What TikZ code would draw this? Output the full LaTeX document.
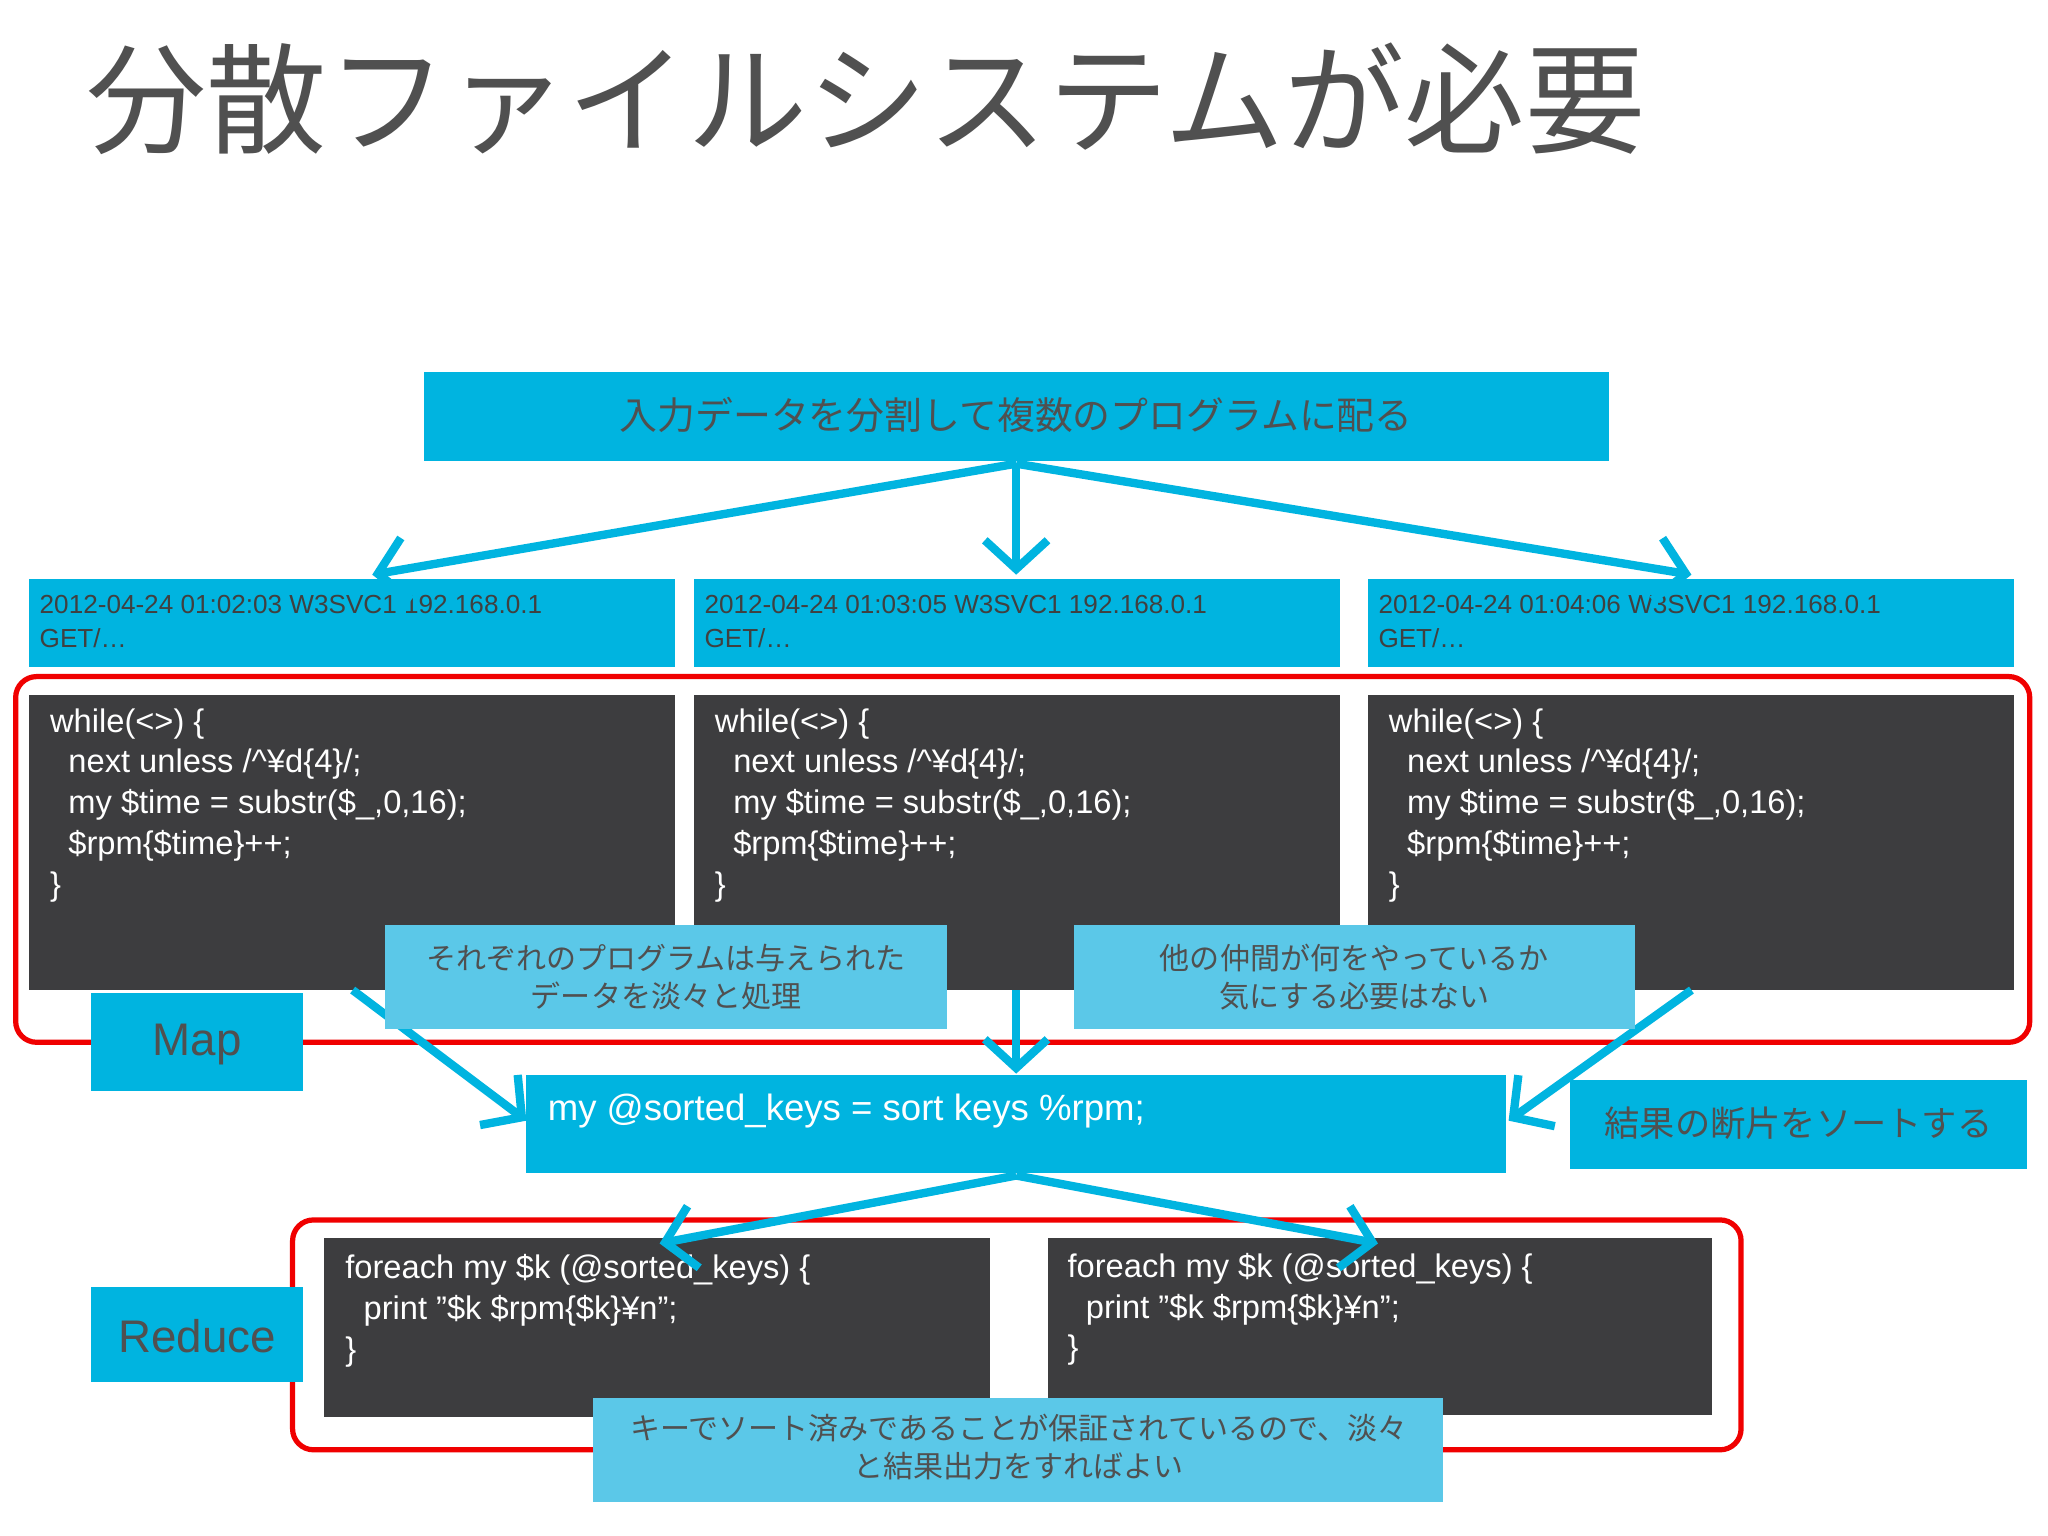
\documentclass[tikz,border=0pt]{standalone}
\usepackage{fontspec}
\setmainfont{Liberation Sans}
\newfontfamily\jp{Noto Sans CJK JP}
\usetikzlibrary{arrows.meta}
\definecolor{cyanA}{HTML}{00B4E0}
\definecolor{cyanL}{HTML}{5BC8E8}
\definecolor{darkbox}{HTML}{3D3D3F}
\definecolor{txtgray}{HTML}{505050}
\definecolor{redline}{HTML}{F00000}
\tikzset{
 cbox/.style={fill=cyanA,draw=none},
 lbox/.style={fill=cyanL,draw=none},
 dbox/.style={fill=darkbox,draw=none},
 frame/.style={draw=redline,line width=2pt,rounded corners=8pt},
 flow/.style={draw=cyanA,line width=3.2pt,-{Straight Barb[length=11pt,width=24pt,line width=3.2pt]}},
 code/.style={anchor=north west,align=left,text=white,font=\fontsize{12.5}{15.6}\selectfont,inner sep=0pt},
 logt/.style={anchor=north west,align=left,text=txtgray!80!black,font=\fontsize{10}{13}\selectfont,inner sep=0pt},
 jpt/.style={align=center,text=txtgray,font=\jp\fontsize{11.5}{14.5}\selectfont,inner sep=0pt},
}
\newcommand{\ind}{\hspace*{7pt}}
\begin{document}
\begin{tikzpicture}[x=0.5pt,y=-0.5pt]
\useasboundingbox[fill=white] (0,0) rectangle (1568,1176);
\node[anchor=west,text=txtgray,font=\jp\fontsize{46}{50}\selectfont,inner sep=0pt] (title) at (66,76) {分散ファイルシステムが必要};
% top
\fill[cbox] (325,285) rectangle (1232,353);
\node[jpt,font=\jp\fontsize{14.5}{17}\selectfont] (top) at (778,318) {入力データを分割して複数のプログラムに配る};
\coordinate (topb) at (778,355);
% logs
\foreach \x/\t/\n in {22/02:03/l1,531/03:05/l2,1047/04:06/l3}{
 \fill[cbox] (\x,443) rectangle ++(495,68);
 \node[logt] (\n) at (\x+8,455) {2012-04-24 01:\t{} W3SVC1 192.168.0.1\\GET/…};
}
\coordinate (a1) at (285,440);\coordinate (a2) at (778,440);\coordinate (a3) at (1295,440);
\draw[flow] (topb) -- (a1);\draw[flow] (topb) -- (a2);\draw[flow] (topb) -- (a3);
% map frame
\draw[frame] (12,518) rectangle (1554,798);
\foreach \x/\n in {22/c1,531/c2,1047/c3}{
 \fill[dbox] (\x,532) rectangle ++(495,226);
 \node[code] (\n) at (\x+16,542) {while(<>) \{\\\ind next unless /\textasciicircum ¥d\{4\}/;\\\ind my \$time = substr(\$\_,0,16);\\\ind \$rpm\{\$time\}++;\\\}};
}
\coordinate (m1) at (270,758);\coordinate (m2) at (778,758);\coordinate (m3) at (1295,758);
\coordinate (s1) at (403,858);\coordinate (s2) at (778,822);\coordinate (s3) at (1155,858);
\draw[flow] (m1) -- (s1);\draw[flow] (m2) -- (s2);\draw[flow] (m3) -- (s3);
\fill[lbox] (295,708) rectangle (725,788);
\node[jpt] (n1) at (510,748) {それぞれのプログラムは与えられた\\データを淡々と処理};
\fill[lbox] (822,708) rectangle (1252,788);
\node[jpt] (n2) at (1037,748) {他の仲間が何をやっているか\\気にする必要はない};
\fill[cbox] (70,760) rectangle (232,835);
\node[text=txtgray,font=\fontsize{17.5}{20}\selectfont] (map) at (151,800) {Map};
% sorted
\fill[cbox] (403,823) rectangle (1153,898);
\node[anchor=west,text=white,font=\fontsize{14}{16}\selectfont,inner sep=0pt] (sorted) at (419,851) {my @sorted\_keys = sort keys \%rpm;};
\fill[cbox] (1202,827) rectangle (1552,895);
\node[jpt,font=\jp\fontsize{13.5}{16}\selectfont] (kek) at (1377,860) {結果の断片をソートする};
% reduce
\draw[frame] (224,934) rectangle (1333,1110);
\fill[dbox] (248,948) rectangle (758,1085);
\fill[dbox] (802,948) rectangle (1311,1083);
\node[code] (r1) at (264,960) {foreach my \$k (@sorted\_keys) \{\\\ind print "\$k \$rpm\{\$k\}¥n";\\\}};
\node[code] (r2) at (817,959) {foreach my \$k (@sorted\_keys) \{\\\ind print "\$k \$rpm\{\$k\}¥n";\\\}};
\coordinate (sb) at (778,900);
\coordinate (b1) at (505,952);\coordinate (b2) at (1055,952);
\draw[flow] (sb) -- (b1);\draw[flow] (sb) -- (b2);
\fill[cbox] (70,985) rectangle (232,1058);
\node[text=txtgray,font=\fontsize{17.5}{20}\selectfont] (red) at (151,1023) {Reduce};
\fill[lbox] (454,1070) rectangle (1105,1150);
\node[jpt] (n3) at (780,1108) {キーでソート済みであることが保証されているので、淡々\\と結果出力をすればよい};
\end{tikzpicture}
\end{document}
